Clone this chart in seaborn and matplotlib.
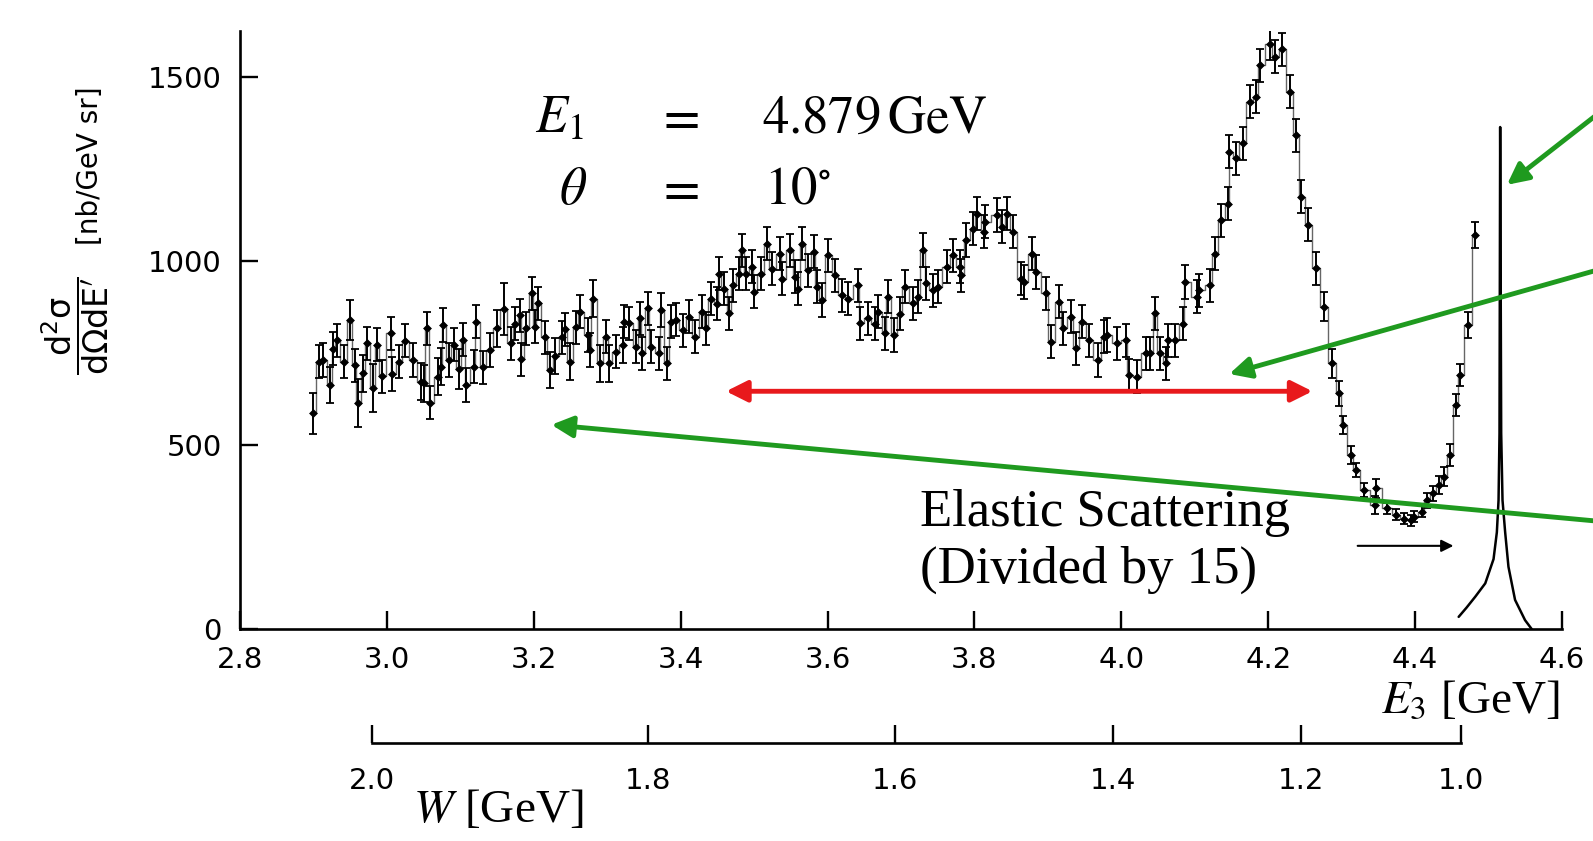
import matplotlib
matplotlib.use("Agg")
import matplotlib.pyplot as plt
import seaborn as sns
import numpy as np

# ---------------- data ----------------
E3 = [2.900, 2.907, 2.913, 2.923, 2.927, 2.932, 2.941, 2.950, 2.956, 2.961,
      2.968, 2.973, 2.981, 2.986, 2.993, 3.005, 3.007, 3.017, 3.025, 3.036,
      3.046, 3.050, 3.055, 3.059, 3.069, 3.073, 3.076, 3.084, 3.091, 3.098,
      3.104, 3.108, 3.118, 3.122, 3.131, 3.140, 3.150, 3.159, 3.169, 3.175,
      3.181, 3.183, 3.190, 3.197, 3.201, 3.206, 3.215, 3.222, 3.229, 3.239,
      3.242, 3.249, 3.258, 3.263,
      3.274, 3.276, 3.281, 3.290, 3.299, 3.302, 3.312, 3.321, 3.323, 3.330,
      3.339, 3.345, 3.348, 3.355, 3.360, 3.371, 3.373, 3.382, 3.387, 3.393,
      3.403, 3.411, 3.420, 3.429, 3.434, 3.441, 3.449, 3.452, 3.459, 3.466,
      3.471, 3.479, 3.483, 3.489, 3.497, 3.500, 3.509, 3.517, 3.524, 3.535,
      3.538, 3.549, 3.556, 3.560, 3.565, 3.574, 3.581, 3.585, 3.592, 3.601,
      3.610, 3.619, 3.628, 3.641, 3.644,
      3.655, 3.664, 3.669, 3.678, 3.682, 3.691, 3.698, 3.706, 3.717, 3.723,
      3.730, 3.734, 3.743, 3.750, 3.763, 3.771, 3.780, 3.782, 3.789, 3.798,
      3.804, 3.813, 3.814, 3.831, 3.838, 3.845, 3.852, 3.863, 3.868, 3.878,
      3.884, 3.897, 3.904, 3.915, 3.920, 3.931, 3.938, 3.947, 3.956, 3.968,
      3.976, 3.981, 3.994, 4.006, 4.010, 4.021,
      4.033, 4.039, 4.046, 4.052, 4.061, 4.064, 4.073, 4.084, 4.087, 4.103,
      4.106, 4.121, 4.127, 4.136, 4.145, 4.147, 4.156, 4.165, 4.175, 4.184,
      4.189, 4.202, 4.209, 4.219, 4.229, 4.238, 4.245, 4.254, 4.265, 4.276,
      4.287, 4.297,
      4.302, 4.313, 4.319, 4.331, 4.345, 4.347, 4.362, 4.374, 4.385, 4.394,
      4.398, 4.409, 4.416, 4.424, 4.432, 4.439, 4.448, 4.455, 4.461, 4.472,
      4.482]

xsec = [586, 726, 731, 663, 762, 785, 726, 840, 717, 615,
        695, 776, 654, 772, 687, 803, 693, 726, 783, 731,
        672, 668, 817, 615, 686, 713, 826, 731, 772, 706,
        786, 663, 713, 835, 711, 758, 817, 869, 776, 830,
        853, 733, 817, 912, 822, 885, 793, 704, 742, 793,
        815, 726, 820, 862,
        799, 758, 898, 722, 794, 722, 754, 772, 835, 831,
        767, 844, 749, 871, 767, 749, 867, 722, 835, 840,
        812, 849, 794, 862, 817, 898, 884, 966, 925, 858,
        934, 966, 1029, 966, 984, 916, 966, 1047, 979, 1020,
        952, 1029, 957, 925, 1047, 975, 1025, 930, 894, 1016,
        961, 907, 898, 934, 831,
        844, 830, 862, 803, 903, 799, 857, 930, 885, 903,
        1030, 939, 921, 930, 984, 1016, 984, 961, 1057, 1088,
        1129, 1079, 1107, 1125, 1093, 1129, 1079, 952, 943, 1020,
        970, 912, 781, 889, 817, 849, 763, 835, 785, 731,
        794, 799, 776, 785, 690, 685,
        749, 749, 858, 749, 722, 785, 785, 830, 943, 903,
        921, 934, 1020, 1111, 1156, 1297, 1279, 1320, 1433, 1446,
        1532, 1590, 1555, 1575, 1460, 1342, 1175, 1098, 980, 876,
        722, 640,
        554, 473, 432, 378, 337, 382, 328, 310, 300, 296,
        305, 319, 350, 369, 391, 414, 473, 608, 690, 826,
        1071]

xsec_err = [55, 45, 45, 50, 45, 45, 45, 55, 45, 65,
            50, 45, 65, 45, 45, 45, 45, 45, 45, 45,
            50, 50, 45, 45, 50, 50, 45, 45, 45, 55,
            45, 45, 45, 45, 45, 45, 50, 70, 45, 45,
            45, 45, 45, 45, 45, 45, 45, 50, 50, 45,
            45, 50, 45, 45,
            45, 45, 50, 50, 45, 50, 45, 50, 45, 45,
            45, 45, 45, 45, 45, 45, 45, 45, 45, 45,
            45, 45, 45, 45, 45, 45, 45, 45, 45, 45,
            45, 45, 45, 45, 45, 45, 45, 45, 45, 45,
            45, 45, 45, 45, 45, 45, 45, 45, 45, 45,
            45, 45, 45, 45, 45,
            45, 45, 45, 45, 45, 45, 45, 45, 45, 45,
            45, 45, 45, 45, 45, 45, 45, 45, 45, 45,
            45, 45, 45, 45, 45, 45, 45, 45, 45, 45,
            45, 45, 45, 45, 45, 45, 45, 45, 45, 45,
            45, 45, 45, 45, 45, 45,
            45, 45, 45, 45, 45, 45, 45, 45, 45, 45,
            45, 45, 45, 45, 45, 45, 45, 45, 45, 45,
            45, 45, 45, 45, 45, 45, 45, 45, 45, 40,
            40, 35,
            25, 25, 20, 20, 25, 25, 15, 15, 15, 15,
            15, 15, 20, 20, 25, 25, 30, 30, 30, 35,
            35]

# elastic peak (divided by 15)
peak_E = [4.4593, 4.4700, 4.4820, 4.4955, 4.5068, 4.5113, 4.5136, 4.5149, 4.5158,
          4.5172, 4.5190, 4.5226, 4.5271, 4.5361, 4.5497, 4.5587]
peak_v = [33, 58, 88, 124, 190, 263, 350, 532, 1364,
          532, 350, 263, 169, 79, 24, 0]

x_ticks = [2.8, 3.0, 3.2, 3.4, 3.6, 3.8, 4.0, 4.2, 4.4, 4.6]
y_ticks = [0, 500, 1000, 1500]
W_ticks = [2.0, 1.8, 1.6, 1.4, 1.2, 1.0]

E1 = 4.879      # GeV
theta_deg = 10.0
M_p = 0.938     # GeV


def W_to_E3(W):
    s2 = np.sin(np.radians(theta_deg) / 2) ** 2
    return (M_p ** 2 + 2 * M_p * E1 - W ** 2) / (2 * M_p + 4 * E1 * s2)


# ---------------- styling ----------------
sns.set_theme(style="ticks")
plt.rcParams["font.family"] = ["DejaVu Sans"]
plt.rcParams["mathtext.fontset"] = "stix"

W_PX, H_PX = 1593, 841
fig = plt.figure(figsize=(W_PX / 100, H_PX / 100), dpi=100)
fig.patch.set_facecolor("white")


def fx(px):
    return px / W_PX


def fy(py):
    return 1 - py / H_PX


ax_l, ax_r, ax_t, ax_b = 240, 1562, 31, 629
ax = fig.add_axes([fx(ax_l), fy(ax_b), (ax_r - ax_l) / W_PX, (ax_b - ax_t) / H_PX])
ax.set_facecolor("white")

# step "boxes"
ax.step(E3, xsec, where="mid", color="0.4", lw=1.0, zorder=2)
ax.errorbar(E3, xsec, yerr=xsec_err, fmt="none", ecolor="black", elinewidth=1.4,
            capsize=3, capthick=1.3, zorder=3)
sns.scatterplot(x=E3, y=xsec, ax=ax, color="black", marker="D", s=16,
                edgecolor="black", linewidth=0.5, zorder=4)

# elastic peak
sns.lineplot(x=peak_E, y=peak_v, ax=ax, sort=False, estimator=None,
             color="black", lw=1.8, zorder=3)

ax.set_xlim(2.8, 4.6)
ax.set_ylim(0, 1625)
ax.set_xticks(x_ticks)
ax.set_xticklabels([f"{t:.1f}" for t in x_ticks])
ax.set_yticks(y_ticks)
ax.set_yticklabels([str(t) for t in y_ticks])
for s in ["top", "right"]:
    ax.spines[s].set_visible(False)
for s in ["left", "bottom"]:
    ax.spines[s].set_color("black")
    ax.spines[s].set_linewidth(1.9)
ax.tick_params(axis="both", direction="in", length=13, width=1.7,
               labelsize=21, colors="black")
ax.tick_params(axis="x", pad=12)
ax.tick_params(axis="y", pad=13)
ax.grid(False)

# y label (two pieces, rotated)
fig.text(fx(75), fy(326),
         r"$\dfrac{\mathrm{d}^2\mathrm{\sigma}}{\mathrm{d}\Omega\mathrm{d}\mathrm{E}^{\prime}}$",
         rotation=90, ha="center", va="center", fontsize=24, color="black",
         math_fontfamily="dejavusans")
fig.text(fx(90), fy(166), "[nb/GeV sr]", rotation=90, ha="center", va="center",
         fontsize=20, color="black", family="DejaVu Sans")

# E3 label
fig.text(fx(1560), fy(701), r"$E_3$ [GeV]", ha="right", va="center",
         fontsize=34, family="Liberation Serif", color="black")

# W axis
axW = fig.add_axes([fx(ax_l), fy(743), (ax_r - ax_l) / W_PX, 0.01])
axW.set_xlim(2.8, 4.6)
axW.patch.set_alpha(0)
for s in ["top", "right", "left"]:
    axW.spines[s].set_visible(False)
axW.spines["bottom"].set_color("black")
axW.spines["bottom"].set_linewidth(1.9)
Wpos = [W_to_E3(w) for w in W_ticks]
axW.spines["bottom"].set_bounds(min(Wpos), max(Wpos))
axW.set_xticks(Wpos)
axW.set_xticklabels([f"{w:.1f}" for w in W_ticks])
axW.set_yticks([])
axW.tick_params(axis="x", direction="in", length=13, width=1.7, labelsize=21,
                pad=17, colors="black")
axW.grid(False)
fig.text(fx(413), fy(810), r"$W$ [GeV]", ha="left", va="center",
         fontsize=34, family="Liberation Serif", color="black")

# kinematics text
txt_kw = dict(fontsize=38, va="center", color="black", family="Liberation Serif")
fig.text(fx(559), fy(120), r"$E_1$", ha="center", **txt_kw)
fig.text(fx(678), fy(120), r"$=$", ha="center", **txt_kw)
fig.text(fx(762), fy(120), r"$4.879\,\mathrm{GeV}$", ha="left", **txt_kw)
fig.text(fx(573), fy(191), r"$\theta$", ha="center", **txt_kw)
fig.text(fx(678), fy(191), r"$=$", ha="center", **txt_kw)
fig.text(fx(764), fy(191), r"$10^{\circ}$", ha="left", **txt_kw)

# elastic text
fig.text(fx(920), fy(513), "Elastic Scattering", ha="left", va="center",
         fontsize=38, family="Liberation Serif", color="black")
fig.text(fx(920), fy(570), "(Divided by 15)", ha="left", va="center",
         fontsize=38, family="Liberation Serif", color="black")
ax.annotate("", xy=(4.456, 226), xytext=(4.318, 226),
            arrowprops=dict(arrowstyle="-|>", color="black", lw=1.5, mutation_scale=18),
            annotation_clip=False, zorder=5)

# red double arrow
red = "#e8191c"
ax.annotate("", xy=(4.264, 646), xytext=(3.458, 646),
            arrowprops=dict(arrowstyle="<|-|>", color=red, lw=3.5, mutation_scale=32),
            annotation_clip=False, zorder=6)

# green arrows (tails beyond the right edge)
green = "#1f9a1f"
for head, tail in [((4.525, 1207), (4.665, 1425)),
                   ((4.147, 693), (4.665, 985)),
                   ((3.224, 555), (4.665, 290))]:
    ax.annotate("", xy=head, xytext=tail,
                arrowprops=dict(arrowstyle="-|>", color=green, lw=3.5, mutation_scale=32,
                                shrinkA=0, shrinkB=0),
                annotation_clip=False, zorder=7)

fig.savefig("out.png", dpi=100, facecolor="white")
